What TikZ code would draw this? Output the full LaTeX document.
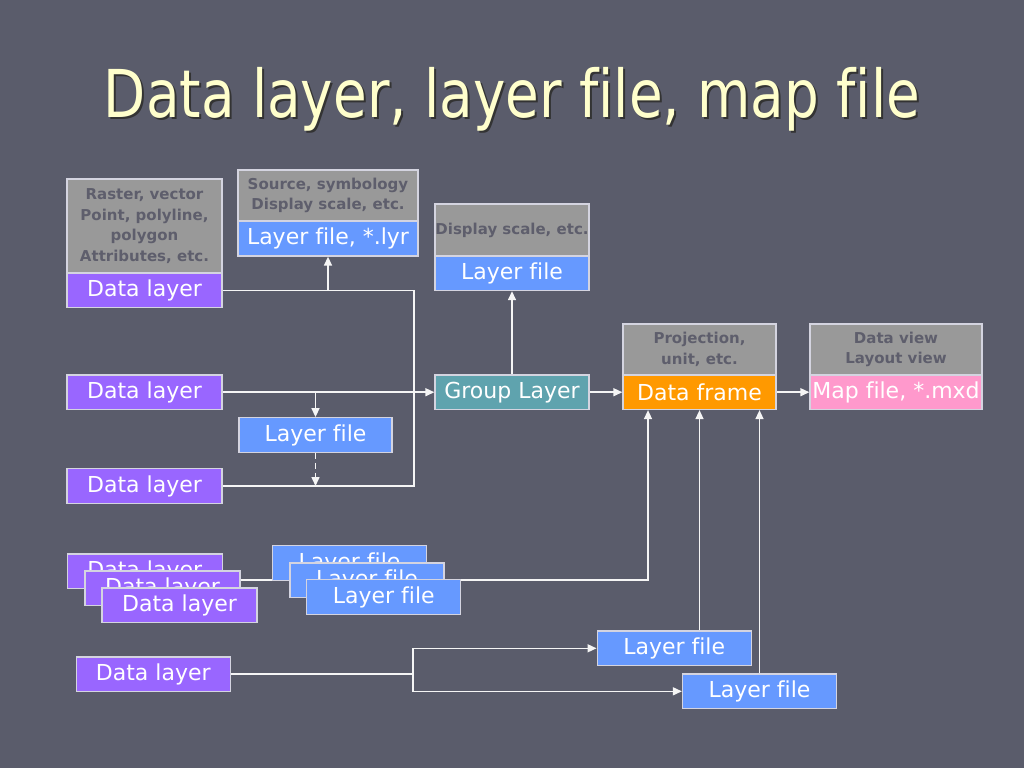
\documentclass[tikz,border=0pt]{standalone}
\usepackage{fontspec}
\usepackage{graphicx}
\setmainfont{DejaVu Sans}[Ligatures=NoCommon]
\usetikzlibrary{arrows.meta}
\definecolor{bgc}{HTML}{5A5C6B}
\definecolor{grayfill}{HTML}{999999}
\definecolor{graytext}{HTML}{5E5E6C}
\definecolor{purplefill}{HTML}{9966FF}
\definecolor{bluefill}{HTML}{6699FF}
\definecolor{tealfill}{HTML}{5FA3AE}
\definecolor{orangefill}{HTML}{FF9900}
\definecolor{pinkfill}{HTML}{FF99CC}
\definecolor{boxline}{HTML}{D4D4E0}
\definecolor{titlec}{HTML}{FFFFCC}
\tikzset{
  bx/.style={draw=boxline, line width=1.3pt, inner sep=0pt, text=white,
     minimum width=154pt, minimum height=34.5pt,
     font=\fontsize{22}{26}\selectfont},
  info/.style={bx, fill=grayfill, text=graytext, align=center,
     font=\bfseries\fontsize{15}{20.5}\selectfont},
  dl/.style={bx, fill=purplefill},
  lf/.style={bx, fill=bluefill},
  gl/.style={bx, fill=tealfill},
  dfr/.style={bx, fill=orangefill},
  mf/.style={bx, fill=pinkfill},
  wire/.style={draw=white!92!gray, line width=1.5pt},
  arr/.style={wire, -{Triangle[length=9pt,width=8pt]}}
}
\begin{document}
\begin{tikzpicture}[x=1pt,y=-1pt]
\useasboundingbox (0,0) rectangle (1024,768);
\fill[bgc] (0,0) rectangle (1024,768);

% title
\node[anchor=base, text=black!80, font=\fontsize{66}{70}\selectfont] (titleshadow) at (514,119) {\scalebox{0.83}[1]{Data layer, layer file, map file}};
\node[anchor=base, text=titlec, font=\fontsize{66}{70}\selectfont] (title) at (512,117) {\scalebox{0.83}[1]{Data layer, layer file, map file}};

% top-left group
\node[info, minimum width=155pt, minimum height=94pt] (g1) at (144.5,226) {Raster, vector\\Point, polyline,\\polygon\\Attributes, etc.};
\node[dl, minimum width=155pt] (DL1) at (144.5,290.3) {Data layer};
\node[info, minimum width=180pt, minimum height=51pt] (g2) at (328,195.5) {Source, symbology\\Display scale, etc.};
\node[lf, minimum width=180pt, minimum height=35pt] (LF1) at (328,238.5) {Layer file, *.lyr};
\node[info, minimum height=52pt] (g3) at (512,230) {Display scale, etc.};
\node[lf] (LF2) at (512,273.3) {Layer file};

\node[gl] (GL) at (512,392.2) {Group Layer};
\node[info, minimum width=153pt, minimum height=51pt] (g4) at (699.5,349.5) {Projection,\\unit, etc.};
\node[dfr, minimum width=153pt] (DF) at (699.5,392.2) {Data frame};
\node[info, minimum width=172pt, minimum height=51pt] (g5) at (896,349.5) {Data view\\Layout view};
\node[mf, minimum width=172pt] (MF) at (896,392.2) {Map file, *.mxd};

\node[dl, minimum width=155pt] (DL2) at (144.5,392.2) {Data layer};
\node[lf, minimum width=153pt] (LF3) at (315.5,435) {Layer file};
\node[dl, minimum width=155pt] (DL3) at (144.5,486) {Data layer};

% connectors upper part
\coordinate (c1) at (414,290.3);
\draw[wire] (DL1.east) -- (c1) |- (DL3.east);
\draw[arr] (LF1.south |- DL1.east) -- (LF1.south);
\draw[arr] (DL2.east) -- (GL.west);
\draw[arr] (LF3.north |- DL2.east) -- (LF3.north);
\draw[arr, dash pattern=on 6pt off 4pt] (LF3.south) -- (LF3.south |- DL3.east);
\draw[arr] (GL.north) -- (LF2.south);
\draw[arr] (GL.east) -- (DF.west);
\draw[arr] (DF.east) -- (MF.west);

% stacked layers
\coordinate (s1) at (222,580);
\coordinate (s2) at (648,580);
\draw[arr] (s1) -- (s2) -- (s2 |- DF.south);
\node[dl, minimum width=155pt] (DLa) at (144.8,571.2) {Data layer};
\node[dl, minimum width=155pt] (DLb) at (162.5,588.3) {Data layer};
\node[dl, minimum width=155pt] (DLc) at (179.5,605.2) {Data layer};
\node[lf] (LFa) at (349.5,563) {Layer file};
\node[lf] (LFb) at (367,580.3) {Layer file};
\node[lf] (LFc) at (383.8,597) {Layer file};

% bottom
\node[dl] (DL4) at (153.3,674.2) {Data layer};
\node[lf] (LFd) at (674.2,648.3) {Layer file};
\node[lf] (LFe) at (759.5,691.3) {Layer file};
\coordinate (b1) at (413,674.2);
\draw[wire] (DL4.east) -- (b1);
\draw[arr] (b1) |- (LFd.west);
\draw[arr] (b1) |- (LFe.west);
\draw[arr] (DF.south |- LFd.north) -- (DF.south);
\draw[arr] (LFe.north) -- (LFe.north |- DF.south);
\end{tikzpicture}
\end{document}
